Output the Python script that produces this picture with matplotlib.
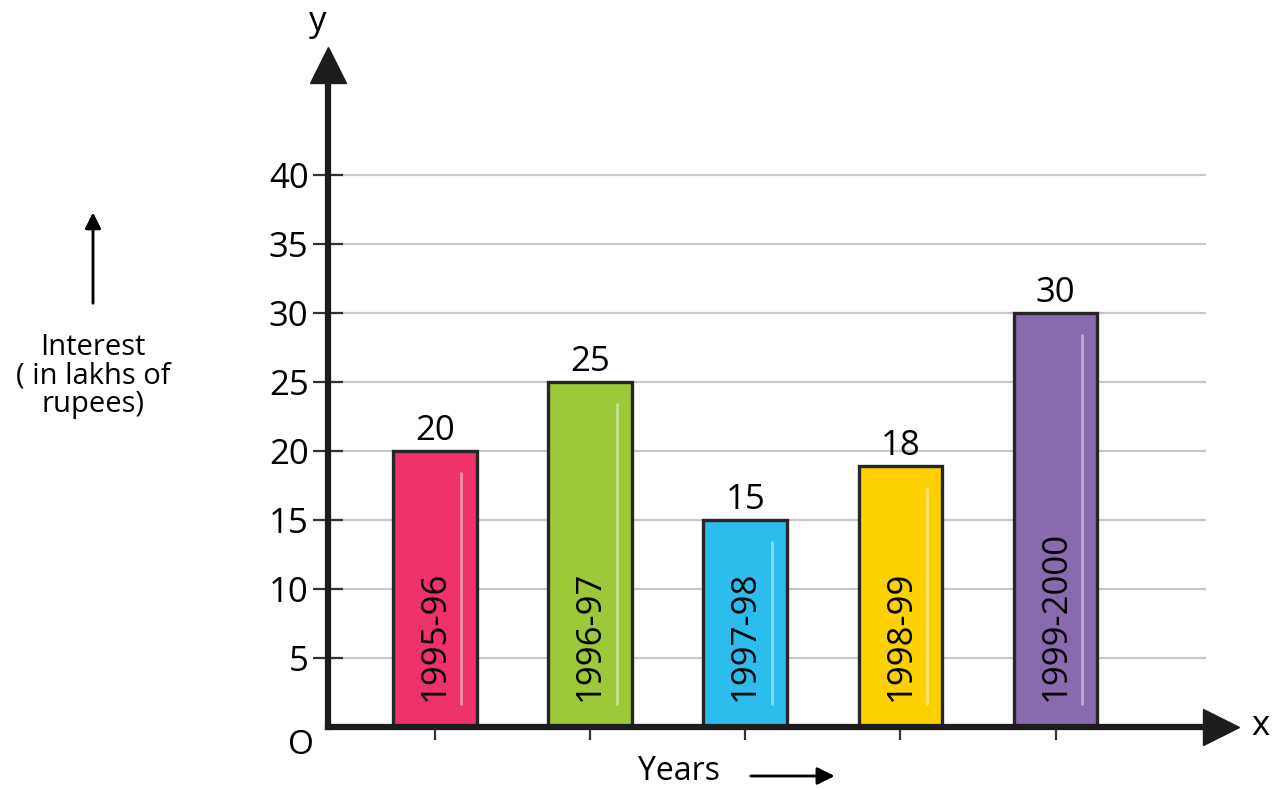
import matplotlib.pyplot as plt
import numpy as np

# Data
years = ["1995-96", "1996-97", "1997-98", "1998-99", "1999-2000"]
bar_heights = [20, 25, 15, 18.9, 30]
value_labels = ["20", "25", "15", "18", "30"]
colors = ["#EE336A", "#9BC93A", "#2DBDEC", "#FDD000", "#8A6AAE"]
y_ticks = [5, 10, 15, 20, 25, 30, 35, 40]

plt.rcParams['font.family'] = ['Open Sans', 'DejaVu Sans']

W, H = 1274, 790
fig = plt.figure(figsize=(W / 100, H / 100), dpi=100)
fig.patch.set_facecolor("white")

# axes placed in pixel terms: y-axis at x=328px, x-axis at y=727px
left, bottom = 328, 63
ax = fig.add_axes([left / W, bottom / H, (1237 - left) / W, (727 - 48) / H])
ax.set_xlim(0.31, 6.17)
ax.set_ylim(0, 49.2)
ax.patch.set_alpha(0)

x = np.arange(1, len(years) + 1)
axis_col = "#1c1c1c"

# horizontal grid lines
ax.hlines(y_ticks, 0.31, 5.97, color="#c9c9c9", lw=1.6, zorder=1)

# bars
ax.bar(x, bar_heights, width=0.54, color=colors, edgecolor="#262626",
       linewidth=2.4, zorder=3)

# light highlight strip inside each bar
for xi, h in zip(x, bar_heights):
    ax.vlines(xi + 0.17, 1.6, h - 1.5, color="white", alpha=0.45, lw=2, zorder=4)

# year names inside the bars
for xi, name in zip(x, years):
    ax.text(xi, 1.9, name, rotation=90, ha="center", va="bottom",
            fontsize=25, color="black", zorder=5)

# values above the bars
for xi, h, lab in zip(x, bar_heights, value_labels):
    ax.text(xi, h + 0.2, lab, ha="center", va="bottom", fontsize=25,
            color="black", zorder=5)

# spines
for s in ["top", "right"]:
    ax.spines[s].set_visible(False)
for s in ["left", "bottom"]:
    ax.spines[s].set_linewidth(4.5)
    ax.spines[s].set_color(axis_col)
    ax.spines[s].set_zorder(6)
ax.spines["left"].set_bounds(0, 47.5)
ax.spines["bottom"].set_bounds(0.31, 5.95)

# arrow heads
ax.plot([0.31], [48.0], marker="^", markersize=26, color=axis_col,
        clip_on=False, zorder=7)
ax.plot([6.07], [0], marker=">", markersize=26, color=axis_col,
        clip_on=False, zorder=7)

# ticks
ax.set_yticks(y_ticks)
ax.set_yticklabels([str(v) for v in y_ticks], fontsize=25)
ax.tick_params(axis="y", direction="inout", length=22, width=1.6,
               color="#333333", pad=3)
ax.set_xticks(x)
ax.set_xticklabels([])
ax.tick_params(axis="x", direction="out", length=9, width=1.6,
               color="#333333")

# axis letters and labels
fig.text(318 / W, 1 - 22 / H, "y", fontsize=25, ha="center", va="center")
fig.text(1260 / W, 1 - 726 / H, "x", fontsize=25, ha="center", va="center")
fig.text(301 / W, 1 - 745 / H, "O", fontsize=24, ha="center", va="center")
fig.text(679 / W, 1 - 772 / H, "Years", fontsize=23, ha="center", va="center")
fig.text(93 / W, 1 - 376 / H, "Interest\n( in lakhs of\nrupees)", fontsize=21,
         ha="center", va="center", linespacing=0.98)

fig.add_artist(plt.annotate("", xy=(837 / W, 1 - 776 / H), xytext=(748 / W, 1 - 776 / H),
                            xycoords="figure fraction",
                            arrowprops=dict(arrowstyle="-|>", color="black",
                                            lw=1.8, mutation_scale=26)))
fig.add_artist(plt.annotate("", xy=(93 / W, 1 - 210 / H), xytext=(93 / W, 1 - 306 / H),
                            xycoords="figure fraction",
                            arrowprops=dict(arrowstyle="-|>", color="black",
                                            lw=1.8, mutation_scale=24)))

fig.savefig("out.png", dpi=100)
